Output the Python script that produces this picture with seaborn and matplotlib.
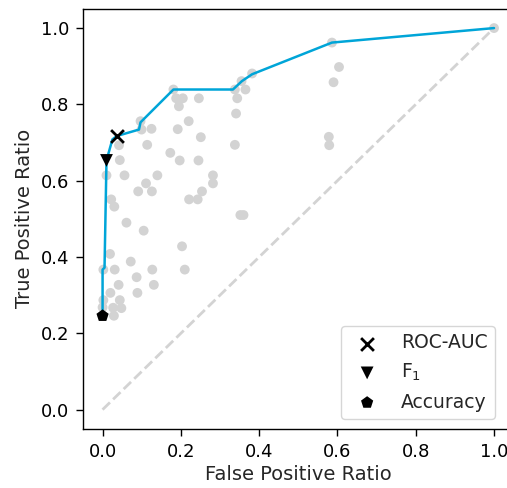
import matplotlib
matplotlib.use("Agg")
import matplotlib.pyplot as plt
import seaborn as sns
import pandas as pd

sns.set_style("ticks")
plt.rcParams['font.family'] = ['DejaVu Sans']

# grey points: (FPR, TPR) of all candidate models
fpr_all = [0.097, 0.0995, 0.125, 0.181, 0.188, 0.205, 0.195, 0.246, 0.220, 0.192,
           0.251, 0.114, 0.042, 0.044, 0.173, 0.197, 0.245, 0.010, 0.056, 0.140,
           0.111, 0.091, 0.126, 0.282, 0.282, 0.254, 0.221, 0.243, 0.022, 0.030,
           0.061, 0.105, 0.352, 0.360, 0.019, 0.072, 0.203, 0.210, 0.127, 0.031,
           0.002, 0.087, 0.041, 0.131, 0.020, 0.089, 0.002, 0.044, 0.027, 0.048,
           0.000, 0.029, 0.000, 0.338, 0.355, 0.365, 0.344, 0.341, 0.338, 0.382,
           0.586, 0.604, 0.590, 0.578, 0.579, 1.000]
tpr_all = [0.756, 0.734, 0.736, 0.839, 0.816, 0.816, 0.795, 0.816, 0.756, 0.735,
           0.714, 0.694, 0.693, 0.654, 0.673, 0.653, 0.653, 0.614, 0.614, 0.614,
           0.593, 0.572, 0.572, 0.614, 0.593, 0.572, 0.551, 0.551, 0.551, 0.532,
           0.490, 0.469, 0.510, 0.510, 0.408, 0.388, 0.428, 0.367, 0.367, 0.367,
           0.367, 0.347, 0.327, 0.327, 0.306, 0.306, 0.287, 0.287, 0.267, 0.266,
           0.268, 0.246, 0.246, 0.839, 0.861, 0.839, 0.816, 0.776, 0.694, 0.881,
           0.962, 0.898, 0.858, 0.715, 0.693, 1.000]

# ROC front
roc_fpr = [0.000, 0.000, 0.005, 0.010, 0.025, 0.036, 0.093, 0.097, 0.181, 0.333,
           0.356, 0.382, 0.586, 1.000]
roc_tpr = [0.246, 0.367, 0.372, 0.653, 0.708, 0.717, 0.734, 0.753, 0.839, 0.839,
           0.861, 0.879, 0.962, 1.000]

# selected models
sel_labels = ["ROC-AUC", "F$_1$", "Accuracy"]
sel_fpr = [0.036, 0.010, 0.000]
sel_tpr = [0.717, 0.653, 0.246]
sel_markers = ["x", "v", "p"]

tick_vals = [0.0, 0.2, 0.4, 0.6, 0.8, 1.0]

fig = plt.figure(figsize=(5.07, 4.88), dpi=100)
ax = fig.add_axes([83/507, (488-428.7)/488, (513.6-83)/507, (428.7-9)/488])

ax.plot([0, 1], [0, 1], ls="--", color="lightgray", lw=2, zorder=1)

df_all = pd.DataFrame({"fpr": fpr_all, "tpr": tpr_all})
sns.scatterplot(data=df_all, x="fpr", y="tpr", color="lightgray", s=50,
                edgecolor="none", ax=ax, zorder=2, legend=False)

df_roc = pd.DataFrame({"fpr": roc_fpr, "tpr": roc_tpr})
sns.lineplot(data=df_roc, x="fpr", y="tpr", sort=False, color="#00a5d8",
             lw=1.8, ax=ax, zorder=3, estimator=None)

for lab, fx, ty, mk in zip(sel_labels, sel_fpr, sel_tpr, sel_markers):
    if mk == "x":
        ax.scatter([fx], [ty], marker=mk, s=85, color="black", linewidths=2,
                   label=lab, zorder=4)
    else:
        ax.scatter([fx], [ty], marker=mk, s=85, color="black", edgecolors="none",
                   label=lab, zorder=4)

ax.set_xlim(-0.05, 1.05)
ax.set_ylim(-0.05, 1.05)
ax.set_xticks(tick_vals)
ax.set_yticks(tick_vals)
ax.set_xticklabels([f"{v:.1f}" for v in tick_vals], fontsize=13)
ax.set_yticklabels([f"{v:.1f}" for v in tick_vals], fontsize=13)
ax.set_xlabel("False Positive Ratio", fontsize=14, labelpad=3)
ax.set_ylabel("True Positive Ratio", fontsize=14, labelpad=5)
for sp in ax.spines.values():
    sp.set_color("black")
    sp.set_linewidth(1.0)
ax.tick_params(colors="black", length=5, width=1, pad=5)

ax.legend(loc="lower right", bbox_to_anchor=(495/507, (488-419)/488),
          bbox_transform=fig.transFigure, borderaxespad=0, fontsize=13.5,
          frameon=True)

fig.savefig("out.png", dpi=100)
